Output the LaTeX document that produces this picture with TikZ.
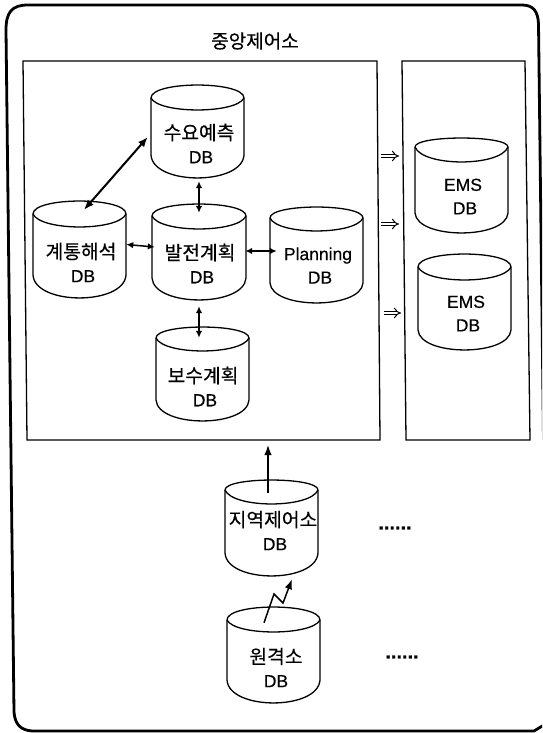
\documentclass[tikz,border=0pt]{standalone}
\usepackage{fontspec}
\setmainfont[FakeBold=0.35]{Liberation Sans}
\newfontfamily\krfont[FakeBold=0.4,Scale=1.1]{Noto Sans CJK KR}
\usetikzlibrary{arrows.meta,calc}
\tikzset{
  x=1pt,y=-1pt,
  outerframe/.style={line width=2.8pt,line join=round},
  boxframe/.style={line width=1.3pt},
  cylline/.style={line width=1.3pt,line join=round,fill=white},
  cylbox/.style={inner sep=0pt,minimum width=93pt,minimum height=93pt,draw=none},
  cyltext/.style={align=center,font=\fontsize{17.5}{23.5}\selectfont,inner sep=0pt},
  titletext/.style={font=\krfont\fontsize{17.3}{20}\selectfont,inner sep=0pt},
  biarrow/.style={line width=1.5pt,{Latex[length=7pt,width=6.5pt]}-{Latex[length=7pt,width=6.5pt]}},
  diagarrow/.style={line width=2pt,{Latex[length=10pt,width=8pt]}-{Latex[length=10pt,width=8pt]}},
  uparrow/.style={line width=1.5pt,-{Latex[length=10pt,width=7.5pt]}},
  implies/.style={double,double distance=2.6pt,line width=1pt,-{Implies[length=5pt]}},
  dotstext/.style={font=\bfseries\fontsize{20}{20}\selectfont,inner sep=0pt}
}
% name, L, R, top, corner, front, side, bottom, tx, ty, text
\newcommand\dbcyl[9]{%
  \def\cylname{#1}\def\cL{#2}\def\cR{#3}\def\cT{#4}\def\cC{#5}\def\cF{#6}\def\cS{#7}\def\cB{#8}\def\cX{#9}%
  \dbcylrest}
\newcommand\dbcylrest[2]{%
  \draw[cylline] (\cL,\cC) .. controls (\cL,{\cC-1.33*(\cC-\cT)}) and (\cR,{\cC-1.33*(\cC-\cT)}) .. (\cR,\cC)
     -- (\cR,\cS) .. controls ({\cR-2},{\cS+1.33*(\cB-\cS)}) and ({\cL+2},{\cS+1.33*(\cB-\cS)}) .. (\cL,\cS) -- cycle;
  \draw[cylline,fill=none] (\cL,\cC) .. controls ({\cL+8},{\cC+1.33*(\cF-\cC)}) and ({\cR-8},{\cC+1.33*(\cF-\cC)}) .. (\cR,\cC);
  \node[cylbox,minimum width={(\cR-\cL)*1pt},minimum height={(\cB-\cT)*1pt}] (\cylname) at ({(\cL+\cR)/2},{(\cT+\cB)/2}) {};
  \node[cyltext] (\cylname-t) at (\cX,{#1+11.5}) {#2};
}
\newcommand\kr[1]{{\krfont #1}}
\begin{document}
\begin{tikzpicture}
\useasboundingbox (0,0) rectangle (542,733);
\fill[white] (0,0) rectangle (542,733);
\begin{scope}
\clip (0,0) rectangle (542,733);
% outer frame
\draw[outerframe] (6,30) .. controls (6,12) and (12,5) .. (28,5) -- (522,5)
  .. controls (533,5) and (538,11) .. (538.5,24) -- (543.5,440);
\draw[outerframe] (6,30) -- (14,712) .. controls (15,724) and (20,730) .. (32,731) -- (534,731) -- (544,725);
\end{scope}
% frames
\draw[boxframe] (23,61) -- (377,61) -- (380,440) -- (27,440) -- cycle;
\coordinate (mainbot) at (268,445);
\draw[boxframe] (402,61) -- (525,61) -- (530,440) -- (406,440) -- cycle;
\node[titletext] (title) at (255,41) {중앙제어소};
% cylinders
\dbcyl{fc}{151}{244}{85}{98}{110}{155}{178}{199}{132}{\kr{수요예측}\\\kern4pt DB}
\dbcyl{sa}{33}{126}{201}{214}{227}{275}{298}{81}{251}{\kr{계통해석}\\\kern4pt DB}
\dbcyl{gp}{152}{246}{204}{216}{229}{278}{300}{200}{252}{\kr{발전계획}\\\kern4pt DB}
\dbcyl{pl}{270}{363}{207}{218}{231}{283}{303}{318}{254}{Planning\\\kern4pt DB}
\dbcyl{mp}{156}{249}{327}{338}{351}{400}{421}{203}{375}{\kr{보수계획}\\\kern4pt DB}
\dbcyl{rc}{225}{318}{480}{490}{504}{553}{576}{273}{519}{\kr{지역제어소}\\\kern4pt DB}
\dbcyl{rm}{227}{320}{607}{620}{632}{680}{703}{276}{656}{\kr{원격소}\\DB}
\dbcyl{ea}{415}{508}{138}{147}{162}{213}{233}{463}{185}{EMS\\\kern4pt DB}
\dbcyl{eb}{418}{511}{254}{267}{280}{330}{350}{466}{302}{EMS\\\kern4pt DB}
% connectors
\draw[diagarrow] ([shift={(-3,5.5)}]fc.west) -- ([shift={(4.5,9)}]sa.north);
\draw[biarrow] ([shift={(1.5,3)}]fc.south) -- ([shift={(0,9)}]gp.north);
\draw[biarrow] ([shift={(0,-5)}]sa.east) -- ([shift={(3,-5)}]gp.west);
\draw[biarrow] ([shift={(-1,-1)}]gp.east) -- ([shift={(7,-4)}]pl.west);
\draw[biarrow] ([shift={(0,6)}]gp.south) -- ([shift={(-3.5,11)}]mp.north);
\draw[uparrow] ([shift={(-3.5,13)}]rc.north) -- (mainbot);
\draw[uparrow,line join=miter] ([shift={(-9.5,16)}]rm.north) -- (274,594) -- (283,603) -- ([shift={(20.5,3)}]rc.south);
% double arrows between frames
\coordinate (ia1) at (381,156); \coordinate (ib1) at (399,156);
\coordinate (ia2) at (381,224); \coordinate (ib2) at (399,224);
\coordinate (ia3) at (384,313); \coordinate (ib3) at (401,313);
\draw[implies] (ia1) -- (ib1);
\draw[implies] (ia2) -- (ib2);
\draw[implies] (ia3) -- (ib3);
\node[dotstext] (dots1) at (395,528) {......};
\node[dotstext] (dots2) at (402,657) {......};
\end{tikzpicture}
\end{document}
